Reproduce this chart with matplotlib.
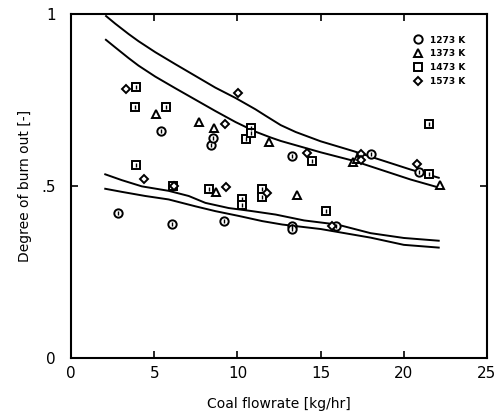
import numpy as np
import matplotlib.pyplot as plt
from matplotlib.lines import Line2D

# measured data points: coal flowrate [kg/hr], degree of burn out [-]
x_1273 = [2.8, 5.4, 6.05, 8.4, 8.5, 9.2, 13.3, 13.3, 13.3, 15.9, 18.0, 20.9]
y_1273 = [0.422, 0.660, 0.390, 0.619, 0.640, 0.398, 0.587, 0.383, 0.375, 0.385, 0.592, 0.541]

x_1373 = [5.1, 7.7, 8.6, 8.7, 11.9, 13.55, 16.95, 17.2, 22.2]
y_1373 = [0.710, 0.687, 0.668, 0.483, 0.629, 0.475, 0.569, 0.578, 0.504]

x_1473 = [3.9, 3.85, 3.9, 5.7, 6.1, 8.3, 10.3, 10.3, 10.5, 10.8, 10.8,
          11.45, 11.45, 14.5, 15.3, 21.5, 21.5]
y_1473 = [0.789, 0.730, 0.561, 0.730, 0.501, 0.490, 0.461, 0.446, 0.637, 0.668, 0.655,
          0.490, 0.468, 0.574, 0.427, 0.679, 0.534]

x_1573 = [3.3, 4.4, 6.2, 9.25, 9.3, 10.05, 11.8, 14.2, 15.7, 17.4, 17.45, 20.8]
y_1573 = [0.781, 0.519, 0.499, 0.679, 0.497, 0.769, 0.480, 0.595, 0.385, 0.592, 0.575, 0.563]

# model curves (upper pair and lower pair)
cx_a = [2.1, 2.65, 3.45, 4.05, 5.06, 6.27, 7.47, 8.67, 9.88, 11.08, 11.7, 12.6, 13.5, 15.0, 17.0, 20.4, 22.1]
cy_a = [0.994, 0.972, 0.942, 0.921, 0.889, 0.854, 0.820, 0.786, 0.756, 0.723, 0.704, 0.677, 0.657, 0.630, 0.601, 0.548, 0.524]
cx_b = [2.09, 2.65, 3.45, 4.05, 5.06, 6.27, 7.47, 8.67, 9.88, 11.08, 12.0, 12.6, 15.0, 17.0, 20.4, 22.0]
cy_b = [0.925, 0.903, 0.872, 0.850, 0.818, 0.784, 0.751, 0.718, 0.686, 0.658, 0.641, 0.631, 0.598, 0.573, 0.519, 0.497]
cx_c = [2.05, 3.05, 4.25, 5.86, 7.07, 8.07, 9.47, 10.88, 12.3, 14.0, 16.0, 18.0, 20.0, 22.1]
cy_c = [0.534, 0.517, 0.499, 0.486, 0.471, 0.451, 0.436, 0.427, 0.417, 0.400, 0.388, 0.363, 0.349, 0.341]
cx_d = [2.05, 3.05, 4.46, 5.86, 7.47, 8.67, 10.08, 11.49, 12.7, 15.0, 18.0, 20.0, 22.1]
cy_d = [0.492, 0.483, 0.471, 0.461, 0.441, 0.427, 0.413, 0.398, 0.388, 0.375, 0.350, 0.329, 0.321]

series = [
    ("1273 K", x_1273, y_1273, "o", 6.0),
    ("1373 K", x_1373, y_1373, "^", 6.0),
    ("1473 K", x_1473, y_1473, "s", 5.5),
    ("1573 K", x_1573, y_1573, "D", 4.5),
]

fig = plt.figure(figsize=(5.01, 4.12), dpi=100)
ax = fig.add_axes([0.142, 0.131, 0.830, 0.835])

for cx, cy in [(cx_a, cy_a), (cx_b, cy_b), (cx_c, cy_c), (cx_d, cy_d)]:
    ax.plot(cx, cy, color="black", lw=1.4)

handles = []
for label, xs, ys, m, ms in series:
    ax.plot(xs, ys, linestyle="none", marker=m, markersize=ms,
            markerfacecolor="white", markeredgecolor="black", markeredgewidth=1.4)
    if m in ("o", "s"):
        # small inner stroke seen inside circles and squares
        ax.plot(xs, ys, linestyle="none", marker="|", markersize=2.5,
                markeredgecolor="black", markeredgewidth=1.0)
    handles.append(Line2D([], [], linestyle="none", marker=m, markersize=ms,
                          markerfacecolor="white", markeredgecolor="black",
                          markeredgewidth=1.4, label=label))

leg = ax.legend(handles=handles, loc="upper left", bbox_to_anchor=(0.817, 0.948),
                frameon=False, fontsize=6.5, handlelength=0.8, handletextpad=0.9,
                labelspacing=0.55, borderaxespad=0)
for t in leg.get_texts():
    t.set_fontweight("bold")

ax.set_xlim(0, 25)
ax.set_ylim(0, 1)
ax.set_xticks([0, 5, 10, 15, 20, 25])
ax.set_yticks([0, 0.5, 1])
ax.set_yticklabels(["0", ".5", "1"])
ax.tick_params(direction="in", top=True, right=True, length=5, width=1.2,
               labelsize=11, pad=6)
ax.tick_params(axis="y", pad=11)
for s in ax.spines.values():
    s.set_linewidth(1.5)

ax.set_xlabel("Coal flowrate [kg/hr]", fontsize=10, labelpad=11)
ax.set_ylabel("Degree of burn out [-]", fontsize=10, labelpad=7)

fig.savefig("out.png", dpi=100)
